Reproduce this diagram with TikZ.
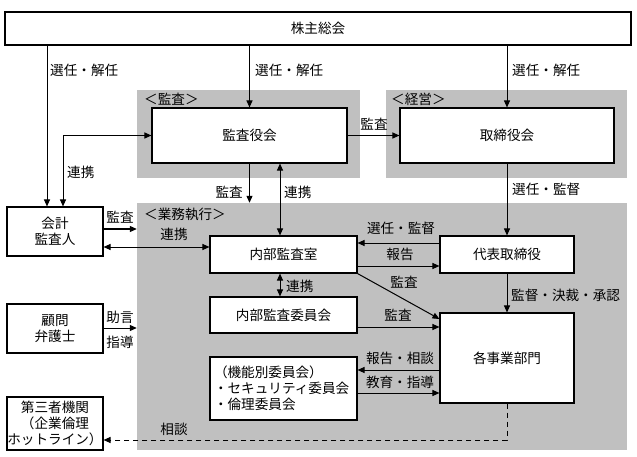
\documentclass[tikz,border=0pt]{standalone}
\usepackage{fontspec}
\setmainfont{Noto Sans CJK JP}
\usetikzlibrary{arrows.meta}
\tikzset{
  box/.style={draw=black, fill=white, line width=1.1pt, inner sep=0pt, align=center},
  region/.style={fill=regiongray, draw=none, inner sep=0pt},
  arr/.style={line width=1pt, -{Triangle[length=7pt,width=6pt]}},
  arrb/.style={line width=1pt, {Triangle[length=7pt,width=6pt]}-{Triangle[length=7pt,width=6pt]}},
  dasharr/.style={line width=1pt, dash pattern=on 5pt off 4pt, -{Triangle[length=7pt,width=6pt]}},
  lbl/.style={inner sep=0pt}
}
\definecolor{regiongray}{HTML}{C0C0C0}
\begin{document}
\begin{tikzpicture}[x=1pt,y=-1pt,font=\fontsize{13.6}{16}\selectfont]
\useasboundingbox (0,0) rectangle (637,457);
\fill[white] (0,0) rectangle (637,457);
% regions
\node[region, minimum width=223, minimum height=88] (gk) at (248.5,134) {};
\node[region, minimum width=241, minimum height=88] (gm) at (506.5,134) {};
\node[region, minimum width=490, minimum height=247] (gg) at (382,326.5) {};
\node[lbl, anchor=west] (lk) at (144,99) {＜監査＞};
\node[lbl, anchor=west] (lm) at (391,99) {＜経営＞};
\node[lbl, anchor=west] (lg) at (144,214) {＜業務執行＞};
% boxes
\node[box, minimum width=626, minimum height=33] (kabu) at (318,28.5) {株主総会};
\node[box, minimum width=195, minimum height=55] (kansa) at (249.5,135.5) {監査役会};
\node[box, minimum width=214, minimum height=55] (tori) at (507,135.5) {取締役会};
\node[box, minimum width=96, minimum height=49] (kaikei) at (55,231.5) {会計\\監査人};
\node[box, minimum width=147, minimum height=37] (naibu) at (283.5,254.5) {内部監査室};
\node[box, minimum width=134, minimum height=37] (daihyo) at (507,254.5) {代表取締役};
\node[box, minimum width=147, minimum height=36] (iinkai) at (283.5,315) {内部監査委員会};
\node[box, minimum width=134, minimum height=90] (jigyo) at (507,358) {各事業部門};
\node[box, minimum width=147, minimum height=63, align=left, text width=139pt, inner xsep=4pt] (kino) at (283.5,388.5) {（機能別委員会）\\・セキュリティ委員会\\・倫理委員会};
\node[box, minimum width=96, minimum height=49] (komon) at (55,328.5) {顧問\\弁護士};
\node[box, minimum width=96, minimum height=53] (daisan) at (55,423.5) {第三者機関\\（企業倫理\\ホットライン）};
% helper coordinates
\coordinate (xa) at (47,0);
\coordinate (xb) at (63,0);
\coordinate (xc) at (280,0);
\coordinate (y1) at (0,229);
\coordinate (y2) at (0,247);
\coordinate (y3) at (0,243);
\coordinate (y4) at (0,266);
\coordinate (y5) at (0,319);
\coordinate (y6) at (0,327);
\coordinate (y7) at (0,370);
\coordinate (y8) at (0,393);
\coordinate (y9) at (0,328);
\coordinate (dl) at (507,440);
% connectors
\draw[arr] (kabu.south -| xa) -- (kaikei.north -| xa);
\draw[arr] (kabu.south -| kansa) -- (kansa.north);
\draw[arr] (kabu.south -| tori) -- (tori.north);
\draw[arr] (kansa.east) -- (tori.west);
\draw[arrb] (kansa.west) -| (kaikei.north -| xb);
\draw[arr] (kansa.south) -- (kansa.south |- gg.north);
\draw[arrb] (kansa.south -| xc) -- (naibu.north -| xc);
\draw[arr] (kaikei.east |- y1) -- (gg.west |- y1);
\draw[arrb] (kaikei.east |- y2) -- (naibu.west |- y2);
\draw[arr] (tori.south) -- (daihyo.north);
\draw[arr] (daihyo.west |- y3) -- (naibu.east |- y3);
\draw[arr] (naibu.east |- y4) -- (daihyo.west |- y4);
\draw[arr] (naibu.south east) -- (jigyo.west |- y5);
\draw[arr] (daihyo.south) -- (jigyo.north);
\draw[arrb] (naibu.south -| xc) -- (iinkai.north -| xc);
\draw[arr] (iinkai.east |- y6) -- (jigyo.west |- y6);
\draw[arr] (jigyo.west |- y7) -- (kino.east |- y7);
\draw[arr] (kino.east |- y8) -- (jigyo.west |- y8);
\draw[arr] (komon.east |- y9) -- (gg.west |- y9);
\draw[dasharr] (jigyo.south) -- (dl) -- (daisan.east |- dl);
% labels
\node[lbl, anchor=west] (t1) at (50,70) {選任・解任};
\node[lbl, anchor=west] (t2) at (255,70) {選任・解任};
\node[lbl, anchor=west] (t3) at (512,70) {選任・解任};
\node[lbl] (t4) at (374,124) {監査};
\node[lbl, anchor=west] (t5) at (67,172) {連携};
\node[lbl, anchor=east] (t6) at (243,192) {監査};
\node[lbl, anchor=west] (t7) at (284,192) {連携};
\node[lbl] (t8) at (120,217) {監査};
\node[lbl] (t9) at (174,234) {連携};
\node[lbl, anchor=west] (t10) at (512,189) {選任・監督};
\node[lbl] (t11) at (401,228) {選任・監督};
\node[lbl] (t12) at (400,254) {報告};
\node[lbl] (t13) at (404,282) {監査};
\node[lbl, anchor=west] (t14) at (286,286) {連携};
\node[lbl, anchor=west] (t15) at (511,295) {監督・決裁・承認};
\node[lbl] (t16) at (398,315) {監査};
\node[lbl] (t17) at (400,358) {報告・相談};
\node[lbl] (t18) at (400,382) {教育・指導};
\node[lbl] (t19) at (120,317) {助言};
\node[lbl] (t20) at (120,342) {指導};
\node[lbl] (t21) at (174,429) {相談};
\end{tikzpicture}
\end{document}
